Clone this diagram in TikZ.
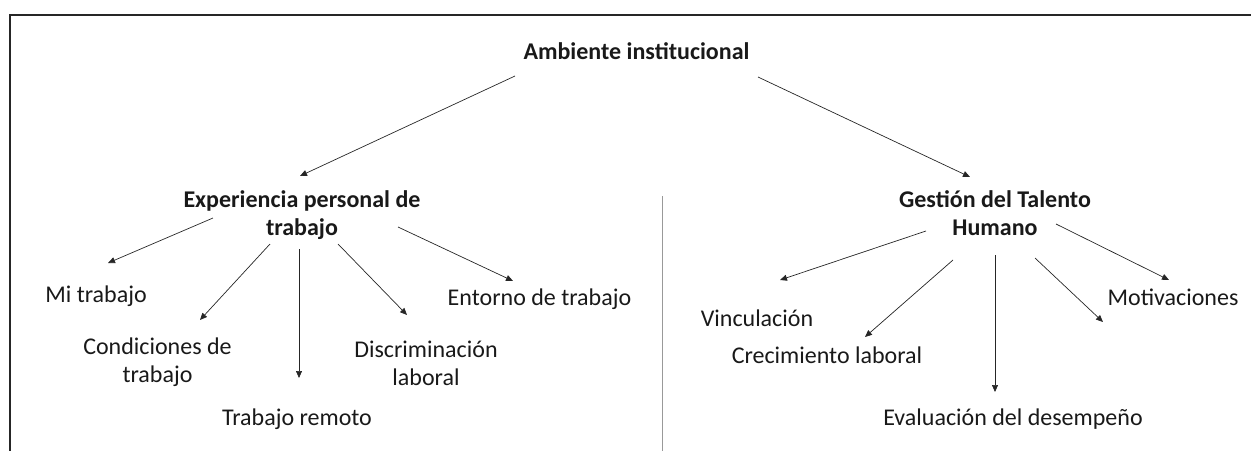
\documentclass[tikz,border=0pt]{standalone}
\usepackage{fontspec}
\setmainfont{Carlito}
\usetikzlibrary{arrows.meta}
\begin{document}
\begin{tikzpicture}[x=1pt,y=-1pt,
  lbl/.style={font=\fontsize{24}{28}\selectfont, inner sep=0pt, text=black!90, align=center},
  hd/.style={lbl, font=\fontsize{24}{28}\selectfont\bfseries},
  arr/.style={-{Triangle[length=7pt,width=6pt]}, line width=0.7pt, draw=black!85},
  frame/.style={line width=1.3pt, draw=black!85},
  divider/.style={line width=1pt, draw=black!40}]
\useasboundingbox (0,0) rectangle (1251,451);
% frame and divider
\coordinate (fTR) at (1251,15);
\coordinate (fTL) at (10,15);
\coordinate (fBL) at (10,451);
\draw[frame] (fTR) -- (fTL) -- (fBL);
\coordinate (dT) at (662,196);
\coordinate (dB) at (662,451);
\draw[divider] (dT) -- (dB);
% nodes (anchor=base is the baseline of the last line)
\node[hd, anchor=base] (amb) at (636.5,59) {Ambiente institucional};
\node[hd, anchor=base] (exp) at (302,235) {Experiencia personal de\\trabajo};
\node[hd, anchor=base] (ges) at (995,235) {Gestión del Talento\\Humano};
\node[lbl, anchor=base] (mi) at (96,302) {Mi trabajo};
\node[lbl, anchor=base] (con) at (157.5,382) {Condiciones de\\trabajo};
\node[lbl, anchor=base] (rem) at (297,425) {Trabajo remoto};
\node[lbl, anchor=base] (dis) at (426,385) {Discriminación\\laboral};
\node[lbl, anchor=base] (ent) at (539.5,305) {Entorno de trabajo};
\node[lbl, anchor=base] (vin) at (757,326) {Vinculación};
\node[lbl, anchor=base] (cre) at (827,363) {Crecimiento laboral};
\node[lbl, anchor=base] (eva) at (1013,425) {Evaluación del desempeño};
\node[lbl, anchor=base] (mot) at (1173,305) {Motivaciones};
% connector end points
\coordinate (a1s) at (515,76);   \coordinate (a1e) at (300,176);
\coordinate (a2s) at (758,77);   \coordinate (a2e) at (970,177);
\coordinate (e1s) at (213,218);  \coordinate (e1e) at (108,263);
\coordinate (e2s) at (270,244);  \coordinate (e2e) at (200,320);
\coordinate (e3s) at (299,249);  \coordinate (e3e) at (299,378);
\coordinate (e4s) at (338,244);  \coordinate (e4e) at (407,315);
\coordinate (e5s) at (398,227);  \coordinate (e5e) at (513,281);
\coordinate (g1s) at (926,231);  \coordinate (g1e) at (780,280);
\coordinate (g2s) at (953,260);  \coordinate (g2e) at (865,337);
\coordinate (g3s) at (995,255);  \coordinate (g3e) at (995,392);
\coordinate (g4s) at (1035,258); \coordinate (g4e) at (1103,322);
\coordinate (g5s) at (1056,224); \coordinate (g5e) at (1169,280);
% connectors
\draw[arr] (a1s) -- (a1e);
\draw[arr] (a2s) -- (a2e);
\draw[arr] (e1s) -- (e1e);
\draw[arr] (e2s) -- (e2e);
\draw[arr] (e3s) -- (e3e);
\draw[arr] (e4s) -- (e4e);
\draw[arr] (e5s) -- (e5e);
\draw[arr] (g1s) -- (g1e);
\draw[arr] (g2s) -- (g2e);
\draw[arr] (g3s) -- (g3e);
\draw[arr] (g4s) -- (g4e);
\draw[arr] (g5s) -- (g5e);
\end{tikzpicture}
\end{document}
